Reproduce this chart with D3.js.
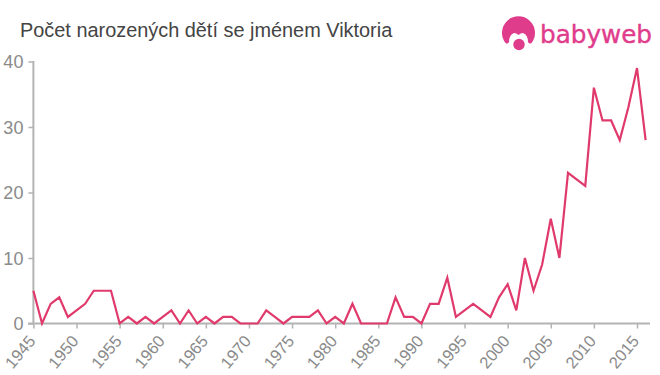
<!DOCTYPE html>
<html><head><meta charset="utf-8">
<script src="https://cdn.jsdelivr.net/npm/d3@7/dist/d3.min.js"></script>
<style>html,body{margin:0;padding:0;background:#fff}svg{display:block}text{font-family:"Liberation Sans",Arial,sans-serif}</style>
</head><body><svg id="c" width="660" height="375"></svg>
<script>
const chartTitle = "Počet narozených dětí se jménem Viktoria";
const brand = "babyweb";
const years = d3.range(1945, 2017);
const births = [5,0,3,4,1,2,3,5,5,5,0,1,0,1,0,1,2,0,2,0,1,0,1,1,0,0,0,2,1,0,1,1,1,2,0,1,0,3,0,0,0,0,4,1,1,0,3,3,7,1,2,3,2,1,4,6,2,10,5,9,16,10,23,22,21,36,31,31,28,33,39,28];
const xTicks = d3.range(1945, 2016, 5);
const yTicks = [0,10,20,30,40];
const svg = d3.select("#c");
const x = d3.scaleLinear().domain([1945,2015]).range([33.4,637]);
const y = d3.scaleLinear().domain([0,40]).range([323.5,61.5]);
const gray="#b3b3b3", lab="#8a8a8a";
const xg = svg.append("g").attr("transform","translate(0,323.5)")
  .call(d3.axisBottom(x).tickValues(xTicks).tickFormat(d3.format("d")).tickSize(5).tickSizeOuter(0));
xg.select(".domain").remove();
xg.append("line").attr("x1",28).attr("x2",650).attr("stroke",gray).attr("stroke-width",2);
xg.selectAll(".tick line").attr("stroke",gray).attr("stroke-width",1.5);
xg.selectAll(".tick text").attr("fill",lab).attr("font-size",16.5).attr("text-anchor","end")
  .attr("dx",null).attr("dy",null).attr("y",null)
  .attr("transform","translate(2.500,18) rotate(-50)");
const yg = svg.append("g").attr("transform","translate(33.4,0)")
  .call(d3.axisLeft(y).tickValues(yTicks).tickSize(5).tickSizeOuter(0));
yg.select(".domain").remove();
yg.append("line").attr("y1",61).attr("y2",324).attr("stroke",gray).attr("stroke-width",2);
yg.selectAll(".tick line").attr("stroke",gray).attr("stroke-width",1.5);
yg.selectAll(".tick text").attr("fill",lab).attr("font-size",18).attr("x",-10).attr("dy",".35em");
svg.append("path").datum(births)
  .attr("fill","none").attr("stroke","#e03a6c").attr("stroke-width",2.2).attr("stroke-linejoin","miter")
  .attr("d",d3.line().x((d,i)=>x(years[i])).y(d=>y(d)));
svg.append("text").attr("x",20).attr("y",37).attr("font-size",19.9).attr("fill","#444").text(chartTitle);
// logo
const pink="#df3c8c";
const logo=svg.append("g");
logo.append("path").attr("fill",pink).attr("d","M505.500 43 A16.500 16.500 0 1 1 531.500 43 Q529.500 44.500 528 42 Q528 35 523 33 Q520.500 33 518.500 35 Q516.500 33 514 33 Q509 35 509 42 Q507.500 44.500 505.500 43 Z");
logo.append("circle").attr("cx",519).attr("cy",44.500).attr("r",5.700).attr("fill",pink);
svg.append("text").attr("x",540).attr("y",43.300).attr("font-size",24.500).attr("fill",pink).attr("stroke",pink).attr("stroke-width",0.4).attr("textLength",112).attr("lengthAdjust","spacingAndGlyphs").style("font-family","'DejaVu Sans'").text(brand);
</script></body></html>
